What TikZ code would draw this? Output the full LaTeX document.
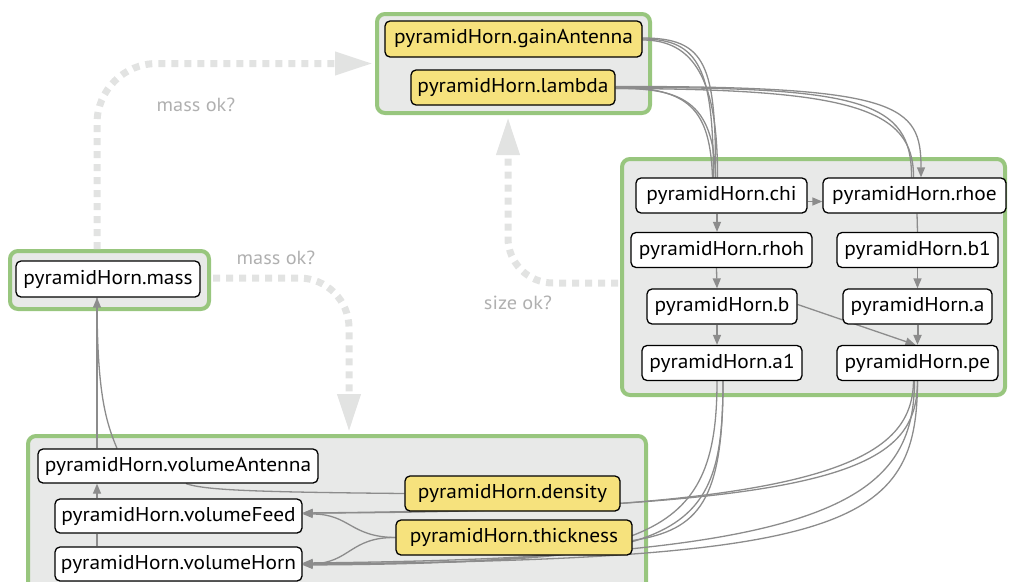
\documentclass[tikz,border=0pt]{standalone}
\usepackage{fontspec}
\setmainfont{PT Sans}[FakeStretch=1.07]
\usetikzlibrary{arrows.meta}
\definecolor{grpgreen}{RGB}{152,198,126}
\definecolor{grpfill}{RGB}{232,233,232}
\definecolor{nodeyellow}{RGB}{246,226,125}
\definecolor{edgegray}{RGB}{140,140,140}
\definecolor{dashgray}{RGB}{226,227,226}
\definecolor{lblgray}{RGB}{176,176,176}
\pgfdeclarelayer{bg}
\pgfdeclarelayer{edges}
\pgfsetlayers{bg,edges,main}
\tikzset{
  grp/.style={draw=grpgreen, line width=4pt, fill=grpfill, rounded corners=8pt, inner sep=0pt},
  box/.style={draw=black, line width=1.3pt, rounded corners=5pt, fill=white, minimum height=35pt, inner xsep=1pt, inner ysep=0pt, font=\fontsize{20}{23}\selectfont},
  ybox/.style={box, fill=nodeyellow},
  edge/.style={draw=edgegray, line width=1.3pt},
  arr/.style={-{Triangle[length=10pt,width=8pt]}},
  qarrow/.style={draw=dashgray, line width=7pt, dash pattern=on 7pt off 6pt, -{Triangle[length=38pt,width=22pt]}},
  lbl/.style={text=lblgray, font=\fontsize{19}{22}\selectfont, inner sep=0pt}
}
\begin{document}
\begin{tikzpicture}[x=1pt,y=-1pt]
\useasboundingbox (0,0) rectangle (1009,581);
% groups
\begin{pgfonlayer}{bg}
\node[grp, minimum width=273pt, minimum height=99pt] (topgrp) at (513.5,63.5) {};
\node[grp, minimum width=383pt, minimum height=236pt] (rightgrp) at (813.5,277) {};
\node[grp, minimum width=199pt, minimum height=58pt] (massgrp) at (109.5,280) {};
\node[grp, minimum width=618pt, minimum height=164pt] (botgrp) at (337,518) {};
\end{pgfonlayer}
% nodes
\node[ybox, minimum width=257pt, minimum height=36pt] (gain) at (513.5,39) {pyramidHorn.gainAntenna};
\node[ybox, minimum width=204pt] (lambda) at (513,87.5) {pyramidHorn.lambda};
\node[box, minimum width=171pt] (chi) at (721.5,195.5) {pyramidHorn.chi};
\node[box, minimum width=183pt] (rhoe) at (914.5,195.5) {pyramidHorn.rhoe};
\node[box, minimum width=181pt] (rhoh) at (721.5,250) {pyramidHorn.rhoh};
\node[box, minimum width=161pt] (b1) at (917.5,250) {pyramidHorn.b1};
\node[box, minimum width=150pt] (b) at (722,306.5) {pyramidHorn.b};
\node[box, minimum width=149pt] (a) at (917.5,306.5) {pyramidHorn.a};
\node[box, minimum width=160pt] (a1) at (722,363) {pyramidHorn.a1};
\node[box, minimum width=161pt] (pe) at (917.5,363) {pyramidHorn.pe};
\node[box, minimum width=184pt, minimum height=36pt] (mass) at (108,279) {pyramidHorn.mass};
\node[box, minimum width=280pt, minimum height=34pt] (vAnt) at (178,466) {pyramidHorn.volumeAntenna};
\node[box, minimum width=247pt, minimum height=34pt] (vFeed) at (178.5,516) {pyramidHorn.volumeFeed};
\node[box, minimum width=247pt, minimum height=34pt] (vHorn) at (178.5,564) {pyramidHorn.volumeHorn};
\node[ybox, minimum width=215pt] (dens) at (512.5,493.5) {pyramidHorn.density};
\node[ybox, minimum width=236pt] (thick) at (514,537.5) {pyramidHorn.thickness};
% labels
\node[lbl] (l1) at (196,105) {mass ok?};
\node[lbl] (l2) at (276,258) {mass ok?};
\node[lbl] (l3) at (518,303) {size ok?};
\begin{pgfonlayer}{edges}
% dashed feedback arrows
\draw[qarrow, rounded corners=60pt] ([xshift=-12.5pt]massgrp.north) |- ([xshift=-2pt]topgrp.west);
\draw[qarrow, rounded corners=50pt] ([xshift=2pt,yshift=2pt]massgrp.east) -| ([xshift=12pt,yshift=2pt]botgrp.north);
\draw[qarrow, rounded corners=45pt] ([xshift=-2pt,yshift=-6pt]rightgrp.west) -| ([xshift=-5.5pt,yshift=-2pt]topgrp.south);
% top edges
\draw[edge] (gain.east) .. controls (700,39) and (713,70) .. ([xshift=-8pt]chi.north);
\draw[edge] ([yshift=1pt]gain.east) .. controls (706,38) and (716,65) .. ([xshift=-6pt]chi.north);
\draw[edge] ([yshift=-1pt]gain.east) .. controls (694,40) and (718,80) .. ([xshift=-4pt]chi.north);
\draw[edge] (lambda.east) .. controls (690,87) and (710,110) .. ([xshift=-9pt]chi.north);
\draw[edge] ([yshift=-1pt]lambda.east) .. controls (680,88) and (714,100) .. ([xshift=-6pt]chi.north);
\draw[edge] (lambda.east) .. controls (860,87) and (912,100) .. ([xshift=-3pt]rhoe.north);
\draw[edge] ([yshift=-1pt]lambda.east) .. controls (850,89) and (914,108) .. ([xshift=-1pt]rhoe.north);
\draw[edge, arr] ([yshift=1pt]lambda.east) .. controls (900,86) and (921,105) .. ([xshift=6.5pt]rhoe.north);
% right group internal
\draw[edge, arr] ([yshift=-6pt]chi.east) -- ([yshift=-6pt]rhoe.west);
\draw[edge, arr] ([xshift=-4.5pt]chi.south) -- ([xshift=-4.5pt]rhoh.north);
\draw[edge] ([xshift=2.5pt]rhoe.south) -- (b1.north);
\draw[edge, arr] ([xshift=-5pt]rhoh.south) -- ([xshift=-5pt]b.north);
\draw[edge, arr] (b1.south) -- (a.north);
\draw[edge, arr] ([xshift=-5pt]b.south) -- ([xshift=-5pt]a1.north);
\draw[edge, arr, line width=2pt] (a.south) -- (pe.north);
\draw[edge, arr] ([yshift=2pt]b.east) -- ([xshift=-2pt]pe.north);
% bottom right bundle
\draw[edge, arr] ([xshift=-5pt]a1.south) .. controls (717,540) and (650,563) .. ([yshift=-1pt]vHorn.east);
\draw[edge, arr] ([xshift=1pt]a1.south) .. controls (723,545) and (680,562) .. (vHorn.east);
\draw[edge] ([xshift=1pt]a1.south) .. controls (723,500) and (700,530) .. ([yshift=-3pt]thick.east);
\draw[edge, arr] (pe.south) .. controls (917,470) and (840,508) .. ([yshift=3pt]vFeed.east);
\draw[edge, arr] ([xshift=-4pt]pe.south) .. controls (912,460) and (830,512) .. ([yshift=3pt]vFeed.east);
\draw[edge, arr] (pe.south) .. controls (917,525) and (850,560) .. (vHorn.east);
\draw[edge, arr] ([xshift=-3pt]pe.south) .. controls (914,505) and (820,558) .. ([yshift=1pt]vHorn.east);
% thickness / density
\draw[edge, arr] (thick.west) .. controls (350,537) and (350,514) .. ([yshift=2pt]vFeed.east);
\draw[edge, arr] (thick.west) .. controls (350,537) and (350,563) .. (vHorn.east);
\draw[edge] (dens.west) .. controls (250,492) and (205,490) .. ([xshift=8pt]vAnt.south);
% left column
\draw[edge, arr] ([xshift=-81.5pt]vFeed.north) -- ([xshift=-81pt]vAnt.south);
\draw[edge] ([xshift=-81.5pt]vHorn.north) -- ([xshift=-81.5pt]vFeed.south);
\draw[edge, arr] ([xshift=-81pt]vAnt.north) -- ([xshift=-11pt]mass.south);
\draw[edge] ([xshift=-61pt]vAnt.north) .. controls (105,420) and (97,390) .. ([xshift=-11pt]mass.south);
\end{pgfonlayer}
\end{tikzpicture}
\end{document}
